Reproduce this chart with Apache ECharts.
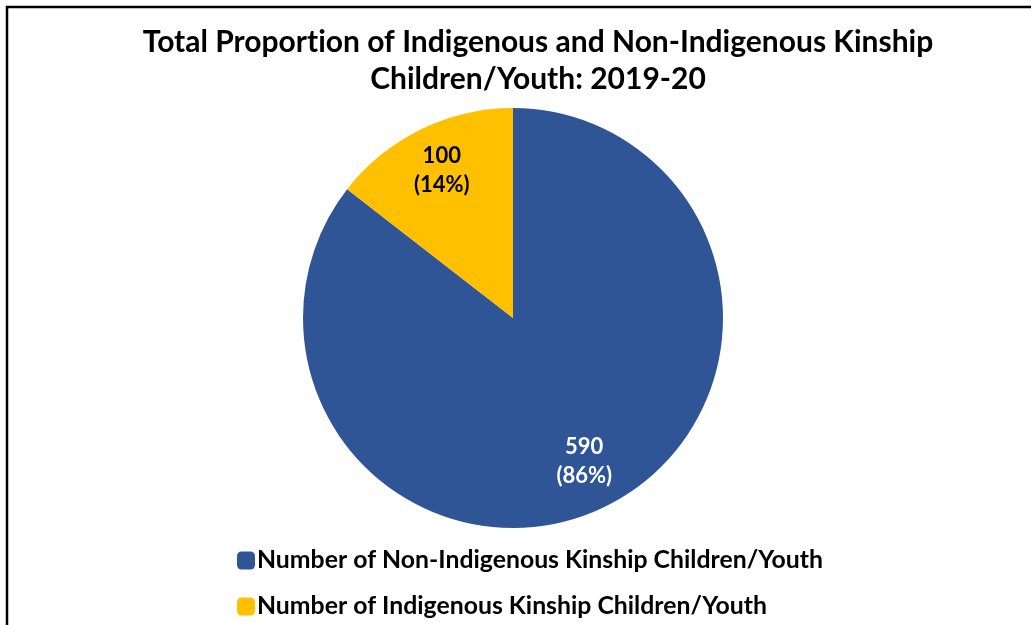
<!DOCTYPE html>
<html><head><meta charset="utf-8">
<script src="https://cdn.jsdelivr.net/npm/echarts@6/dist/echarts.min.js"></script>
<style>html,body{margin:0;padding:0;background:#fff;}#c{width:1031px;height:625px;}</style>
</head><body><div id="c"></div>
<script>
const titleLines = ['Total Proportion of Indigenous and Non-Indigenous Kinship', 'Children/Youth: 2019-20'];
const categories = ['Number of Non-Indigenous Kinship Children/Youth', 'Number of Indigenous Kinship Children/Youth'];
const values = [590, 100];
const percents = ['86%', '14%'];
const colors = ['#2F5597', '#FFC000'];
const labelColors = ['#ffffff', '#000000'];

const FONT = 'Lato';
// split "ti" pairs into separate rich tokens so Lato's ti ligature is not used
const noLig = s => s.split('ti').map(x => '{t|' + x + '}').join('{t|t}{t|i}');
const titleRich = titleLines.map(noLig).join('\n');
const chart = echarts.init(document.getElementById('c'));
const data = categories.map((n, i) => ({name: n, value: values[i], itemStyle: {color: colors[i]}}));
const labelData = categories.map((n, i) => ({
  name: n, value: values[i],
  label: {color: labelColors[i]}
}));
const legendTops = [543, 589];
chart.setOption({
  animation: false,
  title: {
    text: titleRich, left: 533, textAlign: 'center', top: 19,
    textStyle: {fontFamily: FONT, fontWeight: 'bold', fontSize: 30, lineHeight: 37, color: '#000',
      rich: {t: {fontFamily: FONT, fontWeight: 'bold', fontSize: 30, lineHeight: 37, color: '#000'}}}
  },
  legend: categories.map((n, i) => ({
    orient: 'vertical', left: 232, top: legendTops[i],
    itemWidth: 18, itemHeight: 18, icon: 'roundRect',
    data: [n], selectedMode: false,
    textStyle: {fontFamily: FONT, fontWeight: 'bold', fontSize: 24.8, color: '#000', padding: [0, 0, 0, -3]}
  })),
  graphic: [{
    type: 'rect', shape: {x: 7, y: 7, width: 1060, height: 660},
    style: {fill: 'none', stroke: '#000', lineWidth: 2.5}, silent: true, z: 100
  }],
  series: [{
    type: 'pie', center: [513, 318], radius: 210, startAngle: 90, clockwise: true,
    label: {show: false}, labelLine: {show: false},
    itemStyle: {borderWidth: 0}, data: data, emphasis: {disabled: true}
  }, {
    type: 'pie', center: [513, 316], radius: 318, startAngle: 90, clockwise: true,
    silent: true, legendHoverLink: false,
    itemStyle: {color: 'rgba(0,0,0,0)'},
    label: {
      show: true, position: 'inside',
      formatter: p => p.value + '\n(' + percents[p.dataIndex] + ')',
      fontFamily: FONT, fontWeight: 'bold', fontSize: 22, lineHeight: 29
    },
    labelLine: {show: false}, data: labelData, emphasis: {disabled: true}
  }]
});
</script></body></html>
